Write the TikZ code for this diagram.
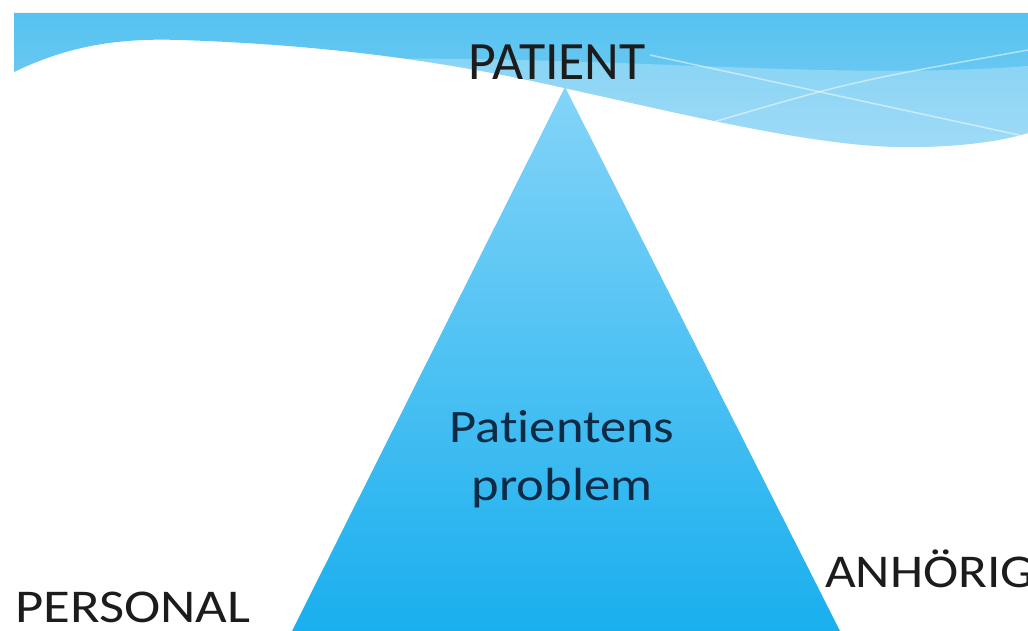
\documentclass[tikz,border=0pt]{standalone}
\usepackage{fontspec}
\setmainfont{Carlito}[Ligatures=NoCommon]
\definecolor{wavetop}{HTML}{55C2F0}
\definecolor{wavebot}{HTML}{80CFF4}
\definecolor{tritop}{HTML}{84D4F8}
\definecolor{tribot}{HTML}{19AFEE}
\definecolor{navy}{HTML}{0E2A45}
\definecolor{ink}{HTML}{1C1C1C}
\tikzset{
  label/.style={inner sep=0pt,text=ink,font=\fontsize{47}{56}\selectfont,xscale=1.13},
  inner/.style={inner sep=0pt,text=navy,font=\fontsize{46.5}{56}\selectfont,xscale=1.13}
}
\def\wavepath{(14,13) -- (1028,13) -- (1028,133)
  .. controls (1005,140) and (970,146) .. (920,147)
  .. controls (830,150) and (700,118) .. (564,88)
  .. controls (450,62) and (330,45) .. (180,40)
  .. controls (120,38) and (70,45) .. (14,72) -- cycle}

\begin{document}
\begin{tikzpicture}[x=1pt,y=-1pt]
\useasboundingbox (0,0) rectangle (1028,631);
\clip (0,0) rectangle (1028,631);

% wave at the top
\shade[top color=wavetop,bottom color=wavebot] \wavepath;
\begin{scope}
  \clip \wavepath;
  \fill[white,opacity=.25] (300,60) .. controls (600,52) and (820,82) .. (1028,66) -- (1028,170) -- (300,170) -- cycle;
  \draw[white,opacity=.5,line width=1.5pt] (650,55) -- (1028,137);
  \draw[white,opacity=.5,line width=1.5pt] (710,123) .. controls (850,82) .. (1028,50);
\end{scope}

% triangle
\coordinate (apex) at (565,87);
\coordinate (left) at (292,631);
\coordinate (right) at (840,631);
\shade[top color=tritop,bottom color=tribot] (apex) -- (right) -- (left) -- cycle;

\node[label,anchor=base,font=\fontsize{54}{60}\selectfont,xscale=.88] (patient) at (557,80) {PATIENT};
\node[inner,anchor=base] (pat1) at (562,442) {Patientens};
\node[inner,anchor=base] (pat2) at (562,500) {problem};
\node[label,anchor=base west,xscale=1.03] (personal) at (15,622) {PERSONAL};
\node[label,anchor=base west] (anhorig) at (825,587) {ANHÖRIG};
\end{tikzpicture}
\end{document}
